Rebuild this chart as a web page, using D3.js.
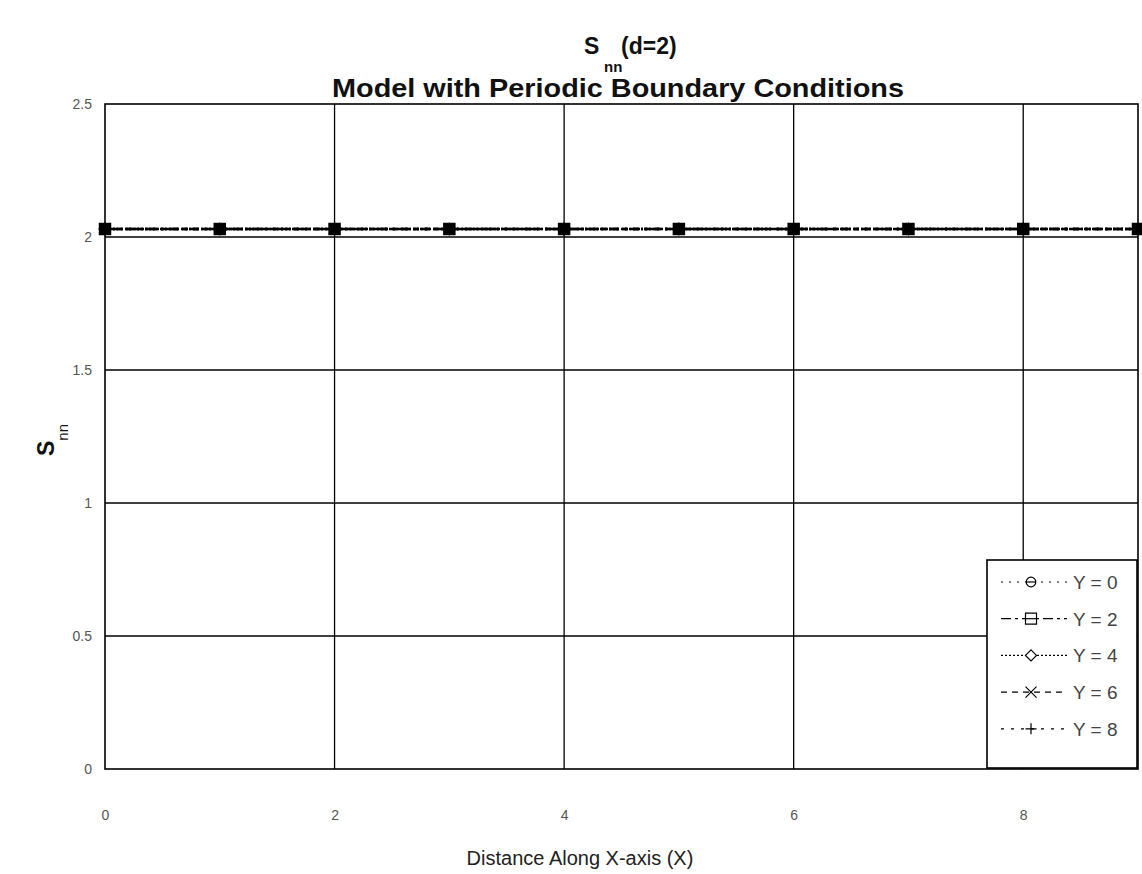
<!DOCTYPE html>
<html>
<head>
  <meta charset="utf-8">
  <script src="https://d3js.org/d3.v7.min.js"></script>
  <style>
    body { margin: 0; background: #fff; }
    text { font-family: "Liberation Sans", Arial, sans-serif; }
  </style>
</head>
<body>
<script>
  "use strict";

  // data
  var xValues = [0, 1, 2, 3, 4, 5, 6, 7, 8, 9];
  var seriesNames = ["Y = 0", "Y = 2", "Y = 4", "Y = 6", "Y = 8"];
  var y0 = [2.03, 2.03, 2.03, 2.03, 2.03, 2.03, 2.03, 2.03, 2.03, 2.03];
  var y2 = [2.03, 2.03, 2.03, 2.03, 2.03, 2.03, 2.03, 2.03, 2.03, 2.03];
  var y4 = [2.03, 2.03, 2.03, 2.03, 2.03, 2.03, 2.03, 2.03, 2.03, 2.03];
  var y6 = [2.03, 2.03, 2.03, 2.03, 2.03, 2.03, 2.03, 2.03, 2.03, 2.03];
  var y8 = [2.03, 2.03, 2.03, 2.03, 2.03, 2.03, 2.03, 2.03, 2.03, 2.03];
  var xTicks = [0, 2, 4, 6, 8];
  var yTicks = [0, 0.5, 1, 1.5, 2, 2.5];

  var seriesValues = [y0, y2, y4, y6, y8];
  var dashes = ["2,6", "10,4,3,4", "2,2", "6,5", "3,7"];
  var markers = ["circle", "square", "diamond", "cross", "plus"];

  var width = 1142, height = 874;
  var margin = {left: 105, top: 104, right: 4, bottom: 105};

  var svg = d3.select("body").append("svg")
      .attr("width", width)
      .attr("height", height);

  var x = d3.scaleLinear().domain([0, 9]).range([margin.left, width - margin.right]);
  var y = d3.scaleLinear().domain([0, 2.5]).range([height - margin.bottom, margin.top]);

  // gridlines
  svg.append("g")
      .selectAll("line.vg").data(xTicks.filter(function(d) { return d > 0; }))
      .enter().append("line")
        .attr("x1", function(d) { return x(d); }).attr("x2", function(d) { return x(d); })
        .attr("y1", y(0)).attr("y2", y(2.5))
        .attr("stroke", "#000").attr("stroke-width", 1.3);
  svg.append("g")
      .selectAll("line.hg").data(yTicks.filter(function(d) { return d > 0 && d < 2.5; }))
      .enter().append("line")
        .attr("x1", x(0)).attr("x2", x(9))
        .attr("y1", function(d) { return y(d); }).attr("y2", function(d) { return y(d); })
        .attr("stroke", "#000").attr("stroke-width", 1.3);

  // plot frame
  svg.append("rect")
      .attr("x", x(0)).attr("y", y(2.5))
      .attr("width", x(9) - x(0)).attr("height", y(0) - y(2.5))
      .attr("fill", "none").attr("stroke", "#000").attr("stroke-width", 1.6);

  // axes (labels only)
  var xAxis = svg.append("g")
      .attr("transform", "translate(0," + (y(0) + 38) + ")")
      .call(d3.axisBottom(x).tickValues(xTicks).tickSize(0).tickFormat(d3.format("d")));
  xAxis.select(".domain").remove();
  xAxis.selectAll("text").attr("font-size", 14).attr("fill", "#555");

  var yAxis = svg.append("g")
      .attr("transform", "translate(" + (x(0) - 10) + ",0)")
      .call(d3.axisLeft(y).tickValues(yTicks).tickSize(0).tickFormat(d3.format("")));
  yAxis.select(".domain").remove();
  yAxis.selectAll("text").attr("font-size", 14).attr("fill", "#555");

  function markerPath(type, s) {
    var h = s / 2;
    if (type === "circle") return d3.symbol().type(d3.symbolCircle).size(s * s * 0.6)();
    if (type === "square") return "M" + (-h) + "," + (-h) + "h" + s + "v" + s + "h" + (-s) + "Z";
    if (type === "diamond") return "M0," + (-h) + "L" + h + ",0L0," + h + "L" + (-h) + ",0Z";
    if (type === "cross") return "M" + (-h) + "," + (-h) + "L" + h + "," + h + "M" + (-h) + "," + h + "L" + h + "," + (-h);
    return "M" + (-h) + ",0H" + h + "M0," + (-h) + "V" + h;
  }

  var line = d3.line()
      .x(function(d) { return x(d[0]); })
      .y(function(d) { return y(d[1]); });

  seriesValues.forEach(function(vals, i) {
    var pts = xValues.map(function(xv, j) { return [xv, vals[j]]; });
    svg.append("path")
        .datum(pts)
        .attr("d", line)
        .attr("fill", "none")
        .attr("stroke", "#000")
        .attr("stroke-width", 2.6)
        .attr("stroke-dasharray", dashes[i]);
    svg.append("g").selectAll("path").data(pts).enter().append("path")
        .attr("transform", function(d) { return "translate(" + x(d[0]) + "," + y(d[1]) + ")"; })
        .attr("d", markerPath(markers[i], 10))
        .attr("fill", markers[i] === "square" ? "#000" : "none")
        .attr("stroke", "#000")
        .attr("stroke-width", 2.5);
  });

  // legend
  var lg = svg.append("g").attr("transform", "translate(987,560)");
  lg.append("rect")
      .attr("width", 150).attr("height", 208)
      .attr("fill", "#fff").attr("stroke", "#000").attr("stroke-width", 1.6);
  seriesNames.forEach(function(name, i) {
    var cy = 22 + i * 36.7;
    lg.append("line")
        .attr("x1", 14).attr("x2", 80).attr("y1", cy).attr("y2", cy)
        .attr("stroke", "#000").attr("stroke-width", 1.2)
        .attr("stroke-dasharray", dashes[i]);
    lg.append("path")
        .attr("transform", "translate(" + 44 + "," + cy + ")")
        .attr("d", markerPath(markers[i], 11))
        .attr("fill", "#fff")
        .attr("stroke", "#000")
        .attr("stroke-width", 1.2);
    if (markers[i] === "circle" || markers[i] === "square") {
      lg.append("line")
          .attr("x1", 39).attr("x2", 49).attr("y1", cy).attr("y2", cy)
          .attr("stroke", "#000").attr("stroke-width", 1.2);
    }
    lg.append("text")
        .attr("x", 86).attr("y", cy + 7)
        .attr("font-size", 19).attr("fill", "#444")
        .text(name);
  });

  // titles
  var t1 = svg.append("text")
      .attr("x", 584).attr("y", 54)
      .attr("font-size", 23).attr("font-weight", "bold").attr("fill", "#111");
  t1.append("tspan").text("S");
  t1.append("tspan").attr("x", 604).attr("dy", 18).attr("font-size", 15).text("nn");
  t1.append("tspan").attr("x", 621).attr("dy", -18).text("(d=2)");

  svg.append("text")
      .attr("x", 618).attr("y", 97)
      .attr("text-anchor", "middle")
      .attr("font-size", 26).attr("font-weight", "bold").attr("fill", "#111")
      .attr("textLength", 572).attr("lengthAdjust", "spacingAndGlyphs")
      .text("Model with Periodic Boundary Conditions");

  svg.append("text")
      .attr("x", 580).attr("y", 865)
      .attr("text-anchor", "middle")
      .attr("font-size", 20).attr("fill", "#222")
      .text("Distance Along X-axis (X)");

  var yt = svg.append("text")
      .attr("transform", "translate(54,440) rotate(-90)")
      .attr("text-anchor", "middle")
      .attr("font-size", 23).attr("font-weight", "bold").attr("fill", "#111");
  yt.append("tspan").text("S");
  yt.append("tspan").attr("dy", 14).attr("font-size", 15).attr("font-weight", "normal").text("nn");
</script>
</body>
</html>
